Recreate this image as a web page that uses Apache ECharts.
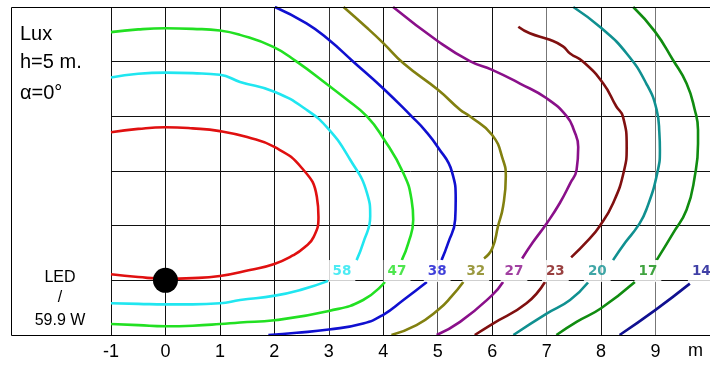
<!DOCTYPE html>
<html>
<head>
<meta charset="utf-8">
<script src="https://cdn.jsdelivr.net/npm/echarts@6/dist/echarts.min.js"></script>
<style>
html,body{margin:0;padding:0;background:#fff;}
#chart{width:710px;height:369px;}
</style>
</head>
<body>
<div id="chart"></div>
<script>
// ---- data ----
const xTickLabels = ['-1','0','1','2','3','4','5','6','7','8','9'];
const unitLabel = 'm';
const infoLines = ['Lux', 'h=5 m.', 'α=0°'];
const lampLines = ['LED', '/', '59.9 W'];
const lampPos = [0, 0];

const levelLabels = ['58','47','38','32','27','23','20','17','14'];
const levelLabelX = [3.24, 4.25, 4.99, 5.70, 6.40, 7.16, 7.93, 8.86, 9.84];
const levelLabelY = 0.17;

const red = [[-1,2.71],[-0.5,2.77],[0,2.80],[0.5,2.78],[1,2.73],[1.5,2.62],[2,2.44],[2.5,2.06],[2.78,1.53],[2.81,1.16],[2.72,0.79],[2.55,0.60],[2.35,0.46],[2.0,0.30],[1.55,0.19],[1,0.08],[0.5,0.04],[0,0.03],[-0.5,0.06],[-1,0.11]];
const cyanUpper = [[-1,3.71],[-0.5,3.78],[0,3.80],[0.5,3.79],[1,3.76],[1.37,3.63],[2,3.45],[2.59,3.12],[3.0,2.76],[3.39,2.21],[3.70,1.60],[3.76,1.17],[3.63,0.68],[3.51,0.37]];
const cyanLower = [[2.99,-0.01],[2.5,-0.17],[2.01,-0.28],[1.37,-0.36],[1,-0.42],[0.5,-0.44],[0,-0.44],[-0.5,-0.43],[-1,-0.42]];
const greenUpper = [[-1,4.54],[-0.5,4.59],[0,4.61],[0.5,4.60],[1,4.57],[1.37,4.49],[1.98,4.27],[2.41,4.0],[2.99,3.57],[3.30,3.33],[3.70,3.0],[4.0,2.60],[4.37,1.96],[4.52,1.47],[4.55,1.11],[4.46,0.68],[4.34,0.37]];
const greenLower = [[4.03,-0.03],[3.63,-0.36],[3.0,-0.56],[2.0,-0.73],[1.37,-0.77],[1,-0.80],[0.5,-0.83],[0,-0.84],[-0.5,-0.82],[-1,-0.80]];
const blueUpper = [[2.01,5.0],[2.59,4.70],[3.0,4.40],[3.45,4.0],[4.0,3.51],[4.52,3.0],[4.77,2.74],[5.0,2.44],[5.26,1.99],[5.33,1.47],[5.32,1.11],[5.19,0.68],[5.07,0.37]];
const blueLower = [[4.80,-0.03],[4.37,-0.36],[4.0,-0.63],[3.63,-0.79],[3.0,-0.90],[2.41,-0.96],[1.89,-1.0]];
const oliveUpper = [[3.27,5.0],[3.7,4.62],[4.0,4.34],[4.37,3.97],[5.01,3.48],[5.41,3.12],[5.59,3.0],[6.0,2.66],[6.20,2.20],[6.25,1.90],[6.20,1.35],[6.11,1.0],[6.0,0.58],[5.85,0.40]];
const oliveLower = [[5.47,-0.03],[5.25,-0.30],[5.01,-0.54],[4.61,-0.82],[4.15,-1.0]];
const purpleUpper = [[4.18,5.0],[5.01,4.37],[5.59,4.01],[6.0,3.85],[6.51,3.60],[7.0,3.33],[7.37,3.0],[7.50,2.75],[7.58,2.44],[7.55,2.02],[7.43,1.77],[7.24,1.41],[7.0,1.04],[6.75,0.70],[6.55,0.40]];
const purpleLower = [[6.20,-0.03],[6.0,-0.27],[5.41,-0.76],[4.98,-1.0]];
const darkRedUpper = [[6.48,4.64],[6.69,4.52],[7.06,4.40],[7.30,4.28],[7.43,4.15],[7.67,4.0],[8.04,3.60],[8.28,3.18],[8.40,3.0],[8.47,2.44],[8.42,2.0],[8.22,1.41],[7.98,1.0],[7.75,0.72],[7.45,0.42]];
const darkRedLower = [[6.97,-0.03],[6.63,-0.42],[6.0,-0.80],[5.68,-1.0]];
const tealUpper = [[7.49,5.0],[8.01,4.61],[8.47,4.15],[8.83,3.60],[9.02,3.12],[9.07,2.7],[9.08,2.38],[9.04,2.0],[8.83,1.29],[8.68,1.0],[8.45,0.70],[8.22,0.37]];
const tealLower = [[7.76,-0.04],[7.43,-0.36],[7.0,-0.61],[6.39,-1.0]];
const green17Upper = [[8.59,5.0],[8.99,4.55],[9.32,4.03],[9.57,3.60],[9.72,3.12],[9.78,2.75],[9.78,2.50],[9.72,1.90],[9.57,1.29],[9.32,0.86],[9.02,0.37]];
const green17Lower = [[8.62,-0.03],[8.0,-0.51],[7.55,-0.76],[7.18,-1.0]];
const navyLower = [[9.63,-0.06],[9.0,-0.54],[8.34,-1.0]];

// ---- styles ----
const C = {
  red:'#e01010', cyan:'#20e6f0', green:'#22e022', blue:'#1010d0', olive:'#828010',
  purple:'#8a108a', darkRed:'#801010', teal:'#109090', green17:'#108c10', navy:'#101090'
};
const levelColors = [C.cyan, C.green, C.blue, C.olive, C.purple, C.darkRed, C.teal, C.green17, C.navy];

const curves = [
  [red, C.red], [cyanUpper, C.cyan], [cyanLower, C.cyan],
  [greenUpper, C.green], [greenLower, C.green],
  [blueUpper, C.blue], [blueLower, C.blue],
  [oliveUpper, C.olive], [oliveLower, C.olive],
  [purpleUpper, C.purple], [purpleLower, C.purple],
  [darkRedUpper, C.darkRed], [darkRedLower, C.darkRed],
  [tealUpper, C.teal], [tealLower, C.teal],
  [green17Upper, C.green17], [green17Lower, C.green17],
  [navyLower, C.navy]
];

const series = curves.map(([pts, col]) => ({
  type: 'line', data: pts, smooth: 0.5, showSymbol: false, silent: true,
  lineStyle: { color: col, width: 2.6 }, z: 3, clip: true
}));

series.push({
  type: 'scatter', z: 6, silent: true, symbolSize: 1,
  itemStyle: { color: 'rgba(0,0,0,0)' },
  data: levelLabels.map((t, i) => ({
    value: [levelLabelX[i], levelLabelY],
    label: {
      show: true, position: 'inside', formatter: t, color: levelColors[i],
      fontFamily: 'DejaVu Sans', fontSize: 13.5, fontWeight: 'bold',
      backgroundColor: '#ffffff', padding: [3, 4, 3, 4], lineHeight: 16
    }
  }))
});

series.push({
  type: 'scatter', z: 7, silent: true, symbol: 'circle', symbolSize: 25,
  itemStyle: { color: '#000', opacity: 1 }, data: [lampPos]
});

const xSplitColors = ['#111','#111','#111','#111','#333','#111','#555','#111','#777','#111','#777','#111'];

const chart = echarts.init(document.getElementById('chart'), null, { renderer: 'canvas' });
chart.setOption({
  animation: false,
  backgroundColor: '#ffffff',
  grid: { left: 111, right: 0, top: 7, bottom: 34 },
  xAxis: {
    type: 'value', min: -1, max: 10, interval: 1,
    axisLine: { show: false }, axisTick: { show: false },
    splitLine: { show: true, lineStyle: { color: xSplitColors, width: 1 } },
    axisLabel: {
      margin: 8, color: '#000', fontFamily: 'Liberation Sans', fontSize: 18,
      showMaxLabel: false,
      formatter: v => (v >= -1 && v <= 9) ? xTickLabels[Math.round(v) + 1] : ''
    }
  },
  yAxis: {
    type: 'value', min: -1, max: 5, interval: 1,
    axisLine: { show: false }, axisTick: { show: false }, axisLabel: { show: false },
    splitLine: { show: true, lineStyle: { color: '#111', width: 1 } }
  },
  graphic: [
    { type: 'polyline', silent: true, z: 10,
      shape: { points: [[712, 7.5], [11.5, 7.5], [11.5, 335.5], [712, 335.5]] },
      style: { stroke: '#000', lineWidth: 1, fill: null } },
    { type: 'text', left: 20, top: 24, silent: true,
      style: { text: infoLines[0], font: '20px "Liberation Sans"', fill: '#000' } },
    { type: 'text', left: 20, top: 52, silent: true,
      style: { text: infoLines[1], font: '20px "Liberation Sans"', fill: '#000' } },
    { type: 'text', left: 20, top: 83, silent: true,
      style: { text: infoLines[2], font: '20px "Liberation Sans"', fill: '#000' } },
    { type: 'text', x: 60, y: 277.5, silent: true,
      style: { text: lampLines[0], font: '16px "Liberation Sans"', fill: '#000', align: 'center', verticalAlign: 'middle' } },
    { type: 'text', x: 60, y: 297.5, silent: true,
      style: { text: lampLines[1], font: '16px "Liberation Sans"', fill: '#000', align: 'center', verticalAlign: 'middle' } },
    { type: 'text', x: 60, y: 320.5, silent: true,
      style: { text: lampLines[2], font: '16px "Liberation Sans"', fill: '#000', align: 'center', verticalAlign: 'middle' } },
    { type: 'text', x: 695.5, y: 351.5, silent: true,
      style: { text: unitLabel, font: '18px "Liberation Sans"', fill: '#000', align: 'center', verticalAlign: 'middle' } }
  ],
  series: series
});
</script>
</body>
</html>
